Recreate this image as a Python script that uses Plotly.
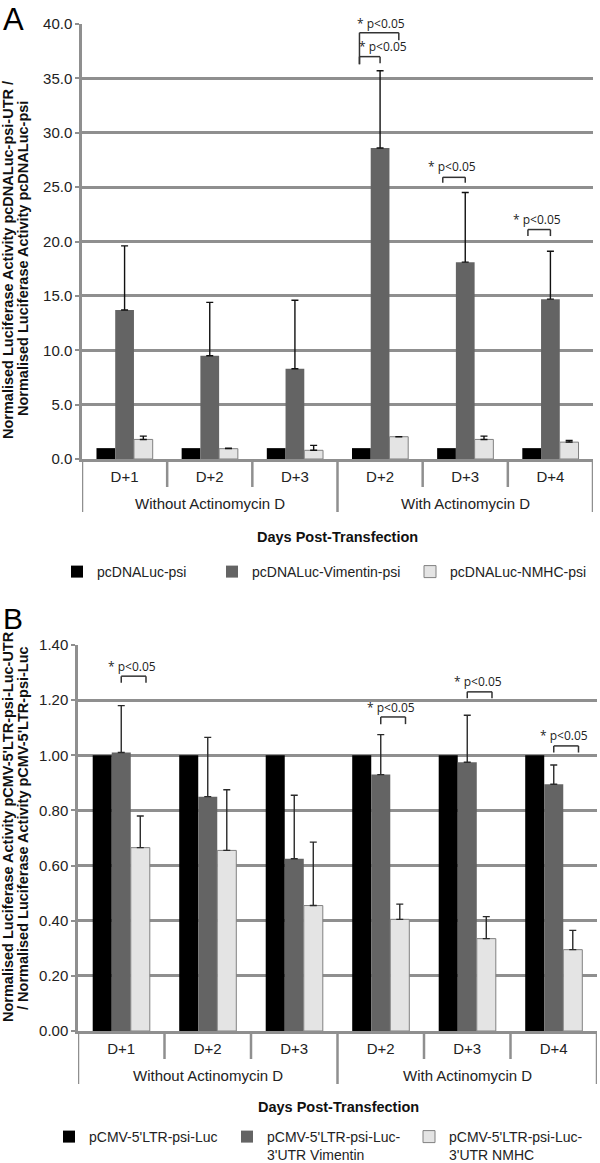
import plotly.graph_objects as go

# ---------------- data ----------------
groups = ["Without Actinomycin D"] * 3 + ["With Actinomycin D"] * 3
days = ["D+1", "D+2", "D+3", "D+2", "D+3", "D+4"]

a_names = ["pcDNALuc-psi", "pcDNALuc-Vimentin-psi", "pcDNALuc-NMHC-psi"]
a_psi = [1.0, 1.0, 1.0, 1.0, 1.0, 1.0]
a_vim = [13.7, 9.5, 8.3, 28.6, 18.1, 14.7]
a_vim_top = [19.6, 14.4, 14.6, 35.7, 24.5, 19.1]
a_nmhc = [1.8, 0.95, 0.8, 2.05, 1.8, 1.55]
a_nmhc_top = [2.1, 1.0, 1.25, 2.05, 2.1, 1.7]

b_names = ["pCMV-5'LTR-psi-Luc", "pCMV-5'LTR-psi-Luc-<br>3'UTR Vimentin", "pCMV-5'LTR-psi-Luc-<br>3'UTR NMHC"]
b_luc = [1.0, 1.0, 1.0, 1.0, 1.0, 1.0]
b_vim = [1.01, 0.85, 0.625, 0.93, 0.975, 0.895]
b_vim_top = [1.18, 1.065, 0.855, 1.075, 1.145, 0.965]
b_nmhc = [0.665, 0.655, 0.455, 0.405, 0.335, 0.295]
b_nmhc_top = [0.78, 0.875, 0.685, 0.46, 0.415, 0.365]

a_title = ["Normalised Luciferase Activity pcDNALuc-psi-UTR /", "Normalised Luciferase Activity pcDNALuc-psi"]
b_title = ["Normalised Luciferase Activity pCMV-5'LTR-psi-Luc-UTR", "/ Normalised Luciferase Activity pCMV-5'LTR-psi-Luc"]
x_title = "Days Post-Transfection"
sig_text = "* p&lt;0.05"

# significance brackets: (category index, left bar pos, right bar pos, bracket y, left leg y, right leg y, label y, label shift px)
a_brackets = [
    (3, -0.1, 1.0, 37.0, 36.3, 36.4, 37.9, 13),
    (3, -0.1, 2.0, 39.2, 36.3, 38.5, 40.0, 2),
    (4, -0.2, 1.0, 25.9, 25.4, 25.4, 26.9, -2),
    (5, -0.2, 1.0, 21.1, 20.5, 20.5, 22.0, -2),
]
b_brackets = [
    (0, 1.0, 2.3, 1.287, 1.263, 1.263, 1.322, -2),
    (3, 1.0, 2.3, 1.139, 1.113, 1.113, 1.174, -2),
    (4, 1.0, 2.3, 1.230, 1.207, 1.207, 1.266, -2),
    (5, 1.0, 2.3, 1.034, 1.010, 1.010, 1.072, -2),
]

# ---------------- styling ----------------
W, H = 600, 1163
GRID = "#8f8f8f"
FONT = "Liberation Sans"
BARGAP = 0.34
xs = list(range(len(days)))
NCAT = len(days)
bw = (1 - BARGAP) / 3


def px_x(p):
    return p / W


def px_y(p):
    return 1 - p / H


fig = go.Figure()


def errs(vals, tops):
    return [t - v for v, t in zip(vals, tops)]


colors = ["#000000", "#646464", "#e4e4e4"]
line_cols = ["#000000", "#646464", "#808080"]

a_series = [(a_psi, None), (a_vim, a_vim_top), (a_nmhc, a_nmhc_top)]
b_series = [(b_luc, None), (b_vim, b_vim_top), (b_nmhc, b_nmhc_top)]

legend_ids_a = ["legend", "legend2", "legend3"]
legend_ids_b = ["legend4", "legend5", "legend6"]

for k, (vals, tops) in enumerate(a_series):
    ey = None
    if tops is not None:
        ey = dict(type="data", symmetric=False, array=errs(vals, tops), arrayminus=[0] * NCAT,
                  color="#111111", thickness=1.4, width=3.5)
    fig.add_trace(go.Bar(x=xs, y=vals, name=a_names[k],
                         marker=dict(color=colors[k], line=dict(color=line_cols[k], width=1 if k == 2 else 0)),
                         error_y=ey, xaxis="x", yaxis="y", legend=legend_ids_a[k]))

for k, (vals, tops) in enumerate(b_series):
    ey = None
    if tops is not None:
        ey = dict(type="data", symmetric=False, array=errs(vals, tops), arrayminus=[0] * NCAT,
                  color="#2a2a2a", thickness=1.4, width=3.5)
    fig.add_trace(go.Bar(x=xs, y=vals, name=b_names[k],
                         marker=dict(color=colors[k], line=dict(color=line_cols[k], width=1 if k == 2 else 0)),
                         error_y=ey, xaxis="x2", yaxis="y2", legend=legend_ids_b[k]))

xaxis_common = dict(
    range=[-0.5, NCAT - 0.5], tickvals=xs, ticktext=days,
    showline=True, linecolor=GRID, linewidth=2.5,
    ticks="outside", ticklen=2, tickcolor="rgba(0,0,0,0)",
    tickfont=dict(family=FONT, size=15, color="#222"),
    showgrid=False, zeroline=False, automargin=False,
)
yaxis_common = dict(
    showline=True, linecolor=GRID, linewidth=2.5,
    ticks="outside", ticklen=4, tickcolor=GRID, tickwidth=2,
    showgrid=True, gridcolor=GRID, gridwidth=2.5, zeroline=False,
    tickfont=dict(family=FONT, size=15, color="#222"), automargin=False,
)

A_TOP, A_BOT = 24, 459
B_TOP, B_BOT = 645, 1031

fig.update_layout(
    width=W, height=H,
    margin=dict(l=0, r=0, t=0, b=0, autoexpand=False),
    paper_bgcolor="white", plot_bgcolor="white",
    barmode="group", bargap=BARGAP, bargroupgap=0,
    xaxis=dict(domain=[px_x(82), px_x(593)], anchor="y", **xaxis_common),
    yaxis=dict(domain=[px_y(A_BOT), px_y(A_TOP)], anchor="x", range=[0, 40], dtick=5, tickformat=".1f", **yaxis_common),
    xaxis2=dict(domain=[px_x(78), px_x(597)], anchor="y2", **xaxis_common),
    yaxis2=dict(domain=[px_y(B_BOT), px_y(B_TOP)], anchor="x2", range=[0, 1.4], dtick=0.2, tickformat=".2f", **yaxis_common),
    showlegend=True,
)

leg_font = dict(family=FONT, size=14, color="#222")
a_leg_x = [57, 212, 410]
b_leg_x = [49, 227, 409]
for i, lid in enumerate(legend_ids_a):
    fig.update_layout({lid: dict(x=px_x(a_leg_x[i]), y=px_y(572), xanchor="left", yanchor="middle",
                                 font=leg_font, bgcolor="rgba(0,0,0,0)", orientation="h")})
for i, lid in enumerate(legend_ids_b):
    fig.update_layout({lid: dict(x=px_x(b_leg_x[i]), y=px_y(1121), xanchor="left", yanchor="top", valign="top",
                                 font=leg_font, bgcolor="rgba(0,0,0,0)", orientation="h")})

annotations = []
shapes = []


def xpos(i, pos):
    return i + (pos - 1) * bw


def add_brackets(brs, xref, yref):
    for (i, l, r, yb, yl, yr, ylab, shift) in brs:
        x0, x1 = xpos(i, l), xpos(i, r)
        for (xa, ya, xb, yb2) in [(x0, yl, x0, yb), (x0, yb, x1, yb), (x1, yb, x1, yr)]:
            shapes.append(dict(type="line", xref=xref, yref=yref, x0=xa, y0=ya, x1=xb, y1=yb2,
                               line=dict(color="#333333", width=1.5)))
        annotations.append(dict(text=sig_text, xref=xref, yref=yref, x=(x0 + x1) / 2, y=ylab,
                                xshift=shift, showarrow=False, font=dict(family="Open Sans", size=12, color="#222"),
                                xanchor="center", yanchor="middle"))


add_brackets(a_brackets, "x", "y")
add_brackets(b_brackets, "x2", "y2")


def add_category_frame(xref, axis_bottom_px):
    # dividers between day categories (short) and between treatment groups / ends (long)
    for j in range(NCAT + 1):
        b = j - 0.5
        long_line = j == 0 or j == NCAT or groups[j] != groups[j - 1]
        y1 = axis_bottom_px + (53 if long_line else 28)
        shapes.append(dict(type="line", xref=xref, yref="paper", x0=b, x1=b,
                           y0=px_y(axis_bottom_px), y1=px_y(y1), line=dict(color=GRID, width=2.5)))
    seen = []
    for g in groups:
        if g not in seen:
            seen.append(g)
    for g in seen:
        idx = [i for i, gg in enumerate(groups) if gg == g]
        annotations.append(dict(text=g, xref=xref, yref="paper", x=sum(idx) / len(idx), y=px_y(axis_bottom_px + 44),
                                showarrow=False, font=dict(family=FONT, size=15, color="#222"),
                                xanchor="center", yanchor="middle"))


add_category_frame("x", A_BOT)
add_category_frame("x2", B_BOT)

# panel letters
annotations.append(dict(text="A", xref="paper", yref="paper", x=px_x(1), y=px_y(0), xanchor="left", yanchor="top",
                        showarrow=False, font=dict(family=FONT, size=31, color="#000")))
annotations.append(dict(text="B", xref="paper", yref="paper", x=px_x(1), y=px_y(600), xanchor="left", yanchor="top",
                        showarrow=False, font=dict(family=FONT, size=30, color="#000")))

# axis titles (each line placed separately)
title_font = dict(family=FONT, size=14.5, color="#111")
for line, xc, yc in [(a_title[0], 8, 260), (a_title[1], 23, 259), (b_title[0], 8, 827), (b_title[1], 23, 828)]:
    annotations.append(dict(text="<b>" + line + "</b>", xref="paper", yref="paper", x=px_x(xc), y=px_y(yc),
                            textangle=-90, showarrow=False, font=title_font, xanchor="center", yanchor="middle"))
annotations.append(dict(text="<b>" + x_title + "</b>", xref="paper", yref="paper", x=px_x(337), y=px_y(537),
                        showarrow=False, font=dict(family=FONT, size=14.5, color="#111"), xanchor="center", yanchor="middle"))
annotations.append(dict(text="<b>" + x_title + "</b>", xref="paper", yref="paper", x=px_x(339), y=px_y(1107),
                        showarrow=False, font=dict(family=FONT, size=14.5, color="#111"), xanchor="center", yanchor="middle"))

fig.update_layout(annotations=annotations, shapes=shapes)
fig.write_html("out.html", config={"displayModeBar": False},
               post_script="document.body.style.margin='0';")
